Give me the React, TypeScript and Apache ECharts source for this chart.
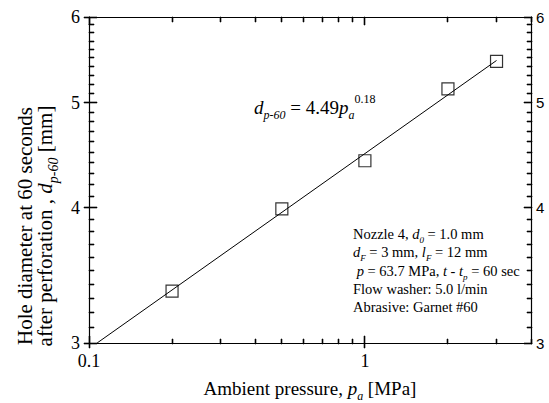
import React, { useEffect, useRef } from "react";
import * as echarts from "echarts";

const pressure = [0.2, 0.5, 1, 2, 3];
const diameter = [3.35, 3.99, 4.42, 5.15, 5.46];
const fitLine = [
  [0.107, 3.0],
  [3.0, 5.47],
];
const xMajor = [0.1, 1];
const xMinor = [0.2, 0.3, 0.4, 0.5, 0.6, 0.7, 0.8, 0.9, 2, 3, 4];
const yMajor = [3, 4, 5, 6];
const yMinor = [
  3.1, 3.2, 3.3, 3.4, 3.5, 3.6, 3.7, 3.8, 3.9,
  4.1, 4.2, 4.3, 4.4, 4.5, 4.6, 4.7, 4.8, 4.9,
  5.1, 5.2, 5.3, 5.4, 5.5, 5.6, 5.7, 5.8, 5.9,
];
const X_MIN = 0.1;
const X_MAX = 4;
const Y_MIN = 3;
const Y_MAX = 6;

const SERIF = "Liberation Serif";
const SANS = "Liberation Sans";

function richSet(size: number) {
  const L = Math.round(size * 1.45);
  const s = Math.round(size * 0.65);
  return {
    n: { fontFamily: SERIF, fontSize: size, lineHeight: L, fill: "#000" },
    i: { fontFamily: SERIF, fontStyle: "italic", fontSize: size, lineHeight: L, fill: "#000" },
    sub: { fontFamily: SERIF, fontStyle: "italic", fontSize: s, lineHeight: s, verticalAlign: "bottom", fill: "#000" },
    sup: { fontFamily: SERIF, fontSize: s, lineHeight: s, verticalAlign: "top", fill: "#000" },
  };
}

const fmt = (v: number) => String(+Number(v).toPrecision(3));

// tick marks: [x, y, length, side] side: 0 bottom, 1 top, 2 left, 3 right
function buildTicks() {
  const out: number[][] = [];
  xMajor.forEach((v) => {
    out.push([v, Y_MIN, 8, 0]);
    out.push([v, Y_MIN, -5, 0]);
    out.push([v, Y_MAX, 8, 1]);
  });
  xMinor.forEach((v) => {
    out.push([v, Y_MIN, 5, 0]);
    out.push([v, Y_MAX, 5, 1]);
  });
  yMajor.forEach((v) => {
    out.push([X_MIN, v, 8, 2]);
    out.push([X_MIN, v, -5, 2]);
    out.push([X_MAX, v, 8, 3]);
  });
  yMinor.forEach((v) => {
    out.push([X_MIN, v, 5, 2]);
    out.push([X_MAX, v, 5, 3]);
  });
  return out;
}

function axisBase() {
  return {
    type: "log",
    logBase: 10,
    axisLine: { show: true, onZero: false, lineStyle: { color: "#000", width: 1.2 } },
    axisTick: { show: false },
    splitLine: { show: false },
    minorTick: { show: false },
    minorSplitLine: { show: false },
  };
}

function textGraphics() {
  const annSize = 14.5;
  return [
    {
      type: "text",
      x: 310,
      y: 388,
      style: {
        text: "{n|Ambient pressure, }{i|p}{sub|a}{n| [MPa]}",
        rich: richSet(19),
        align: "center",
        verticalAlign: "middle",
      },
    },
    {
      type: "text",
      x: 25,
      y: 226,
      rotation: Math.PI / 2,
      style: {
        text: "{n|Hole diameter at 60 seconds}",
        rich: richSet(21),
        align: "center",
        verticalAlign: "middle",
      },
    },
    {
      type: "text",
      x: 45,
      y: 226,
      rotation: Math.PI / 2,
      style: {
        text: "{n|after perforation , }{i|d}{sub|p-60}{n| [mm]}",
        rich: richSet(21),
        align: "center",
        verticalAlign: "middle",
      },
    },
    {
      type: "text",
      x: 254,
      y: 107,
      style: {
        text: "{i|d}{sub|p-60}{n| = 4.49}{i|p}{sub|a}{sup|0.18}",
        rich: richSet(19),
        align: "left",
        verticalAlign: "middle",
      },
    },
    ...[
      "{n|Nozzle 4, }{i|d}{sub|0}{n| = 1.0 mm}",
      "{i|d}{sub|F}{n| = 3 mm, }{i|l}{sub|F}{n| = 12 mm}",
      "{i| p}{n| = 63.7 MPa, }{i|t}{n| - }{i|t}{sub|p}{n| = 60 sec}",
      "{n|Flow washer: 5.0 l/min}",
      "{n|Abrasive: Garnet #60}",
    ].map((t, k) => ({
      type: "text",
      x: 353,
      y: 234 + k * 18.3,
      style: {
        text: t,
        rich: richSet(annSize),
        align: "left",
        verticalAlign: "middle",
      },
    })),
  ];
}

export default function App() {
  const ref = useRef<HTMLDivElement>(null);
  useEffect(() => {
    if (!ref.current) return;
    const chart = echarts.init(ref.current, null, { renderer: "svg" });
    const option: any = {
      animation: false,
      backgroundColor: "#fff",
      grid: { left: 89, right: 18, top: 17, bottom: 60, containLabel: false, outerBoundsMode: "none" },
      xAxis: [
        {
          ...axisBase(),
          min: X_MIN,
          max: X_MAX,
          position: "bottom",
          axisLabel: {
            show: true,
            customValues: xMajor,
            formatter: fmt,
            fontFamily: SERIF,
            fontSize: 18,
            color: "#000",
            margin: 9,
          },
        },
        { ...axisBase(), min: X_MIN, max: X_MAX, position: "top", axisLabel: { show: false } },
      ],
      yAxis: [
        {
          ...axisBase(),
          min: Y_MIN,
          max: Y_MAX,
          position: "left",
          axisLabel: {
            show: true,
            customValues: yMajor,
            formatter: fmt,
            fontFamily: SERIF,
            fontSize: 18,
            color: "#000",
            margin: 9,
          },
        },
        {
          ...axisBase(),
          min: Y_MIN,
          max: Y_MAX,
          position: "right",
          axisLabel: {
            show: true,
            customValues: yMajor,
            formatter: fmt,
            fontFamily: SANS,
            fontSize: 15,
            color: "#000",
            margin: 5,
          },
        },
      ],
      series: [
        {
          type: "line",
          xAxisIndex: 0,
          yAxisIndex: 0,
          data: fitLine,
          symbol: "none",
          lineStyle: { color: "#000", width: 1 },
          silent: true,
          z: 2,
        },
        {
          type: "scatter",
          xAxisIndex: 0,
          yAxisIndex: 0,
          data: pressure.map((p, i) => [p, diameter[i]]),
          symbol: "rect",
          symbolSize: 12,
          itemStyle: { color: "rgba(0,0,0,0)", borderColor: "#000", borderWidth: 1.2 },
          z: 3,
        },
      ],
      graphic: textGraphics(),
    };
    chart.setOption(option);

    // tick marks placed through the chart's own log scales, snapped to whole pixels
    const tickRects: any[] = [];
    buildTicks().forEach(([x, y, len, side]) => {
      const p = chart.convertToPixel({ gridIndex: 0 }, [x, y]) as any;
      if (!p || !isFinite(p[0]) || !isFinite(p[1])) return;
      const px = Math.round(p[0] - 0.5);
      const py = Math.round(p[1] - 0.5);
      let rx = 0, ry = 0, rw = 1, rh = 1;
      if (side === 0) {
        rx = px; rw = 1;
        if (len > 0) { ry = py - len + 1; rh = len; } else { ry = py; rh = -len; }
      } else if (side === 1) {
        rx = px; rw = 1; ry = py; rh = len;
      } else if (side === 2) {
        ry = py; rh = 1;
        if (len > 0) { rx = px; rw = len; } else { rx = px + len; rw = -len; }
      } else {
        ry = py; rh = 1; rx = px - len + 1; rw = len;
      }
      tickRects.push({
        type: "rect",
        silent: true,
        z: 10,
        shape: { x: rx, y: ry, width: rw, height: rh },
        style: { fill: "#000", stroke: "#000", lineWidth: 0.6 },
      });
    });
    chart.setOption({ graphic: [...textGraphics(), ...tickRects] });
    return () => chart.dispose();
  }, []);
  return (
    <div
      ref={ref}
      style={{ position: "fixed", left: 0, top: 0, width: 549, height: 403, background: "#fff" }}
    />
  );
}
